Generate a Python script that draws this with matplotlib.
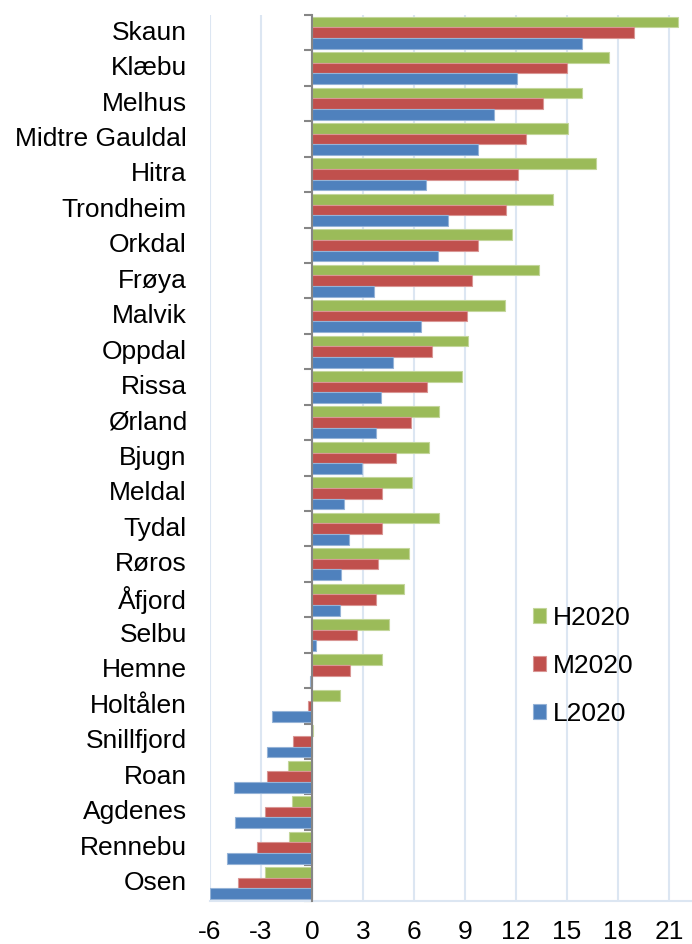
import numpy as np
import matplotlib
matplotlib.use('Agg')
import matplotlib.pyplot as plt

plt.rcParams['font.family'] = ['Liberation Sans', 'DejaVu Sans']

# municipality data, top to bottom
kommuner = ['Skaun', 'Klæbu', 'Melhus', 'Midtre Gauldal', 'Hitra', 'Trondheim',
            'Orkdal', 'Frøya', 'Malvik', 'Oppdal', 'Rissa', 'Ørland', 'Bjugn',
            'Meldal', 'Tydal', 'Røros', 'Åfjord', 'Selbu', 'Hemne', 'Holtålen',
            'Snillfjord', 'Roan', 'Agdenes', 'Rennebu', 'Osen']
h2020 = [21.55, 17.45, 15.9, 15.04, 16.7, 14.16, 11.75, 13.37, 11.35, 9.18,
         8.84, 7.49, 6.86, 5.88, 7.45, 5.71, 5.41, 4.53, 4.1, 1.67,
         0.08, -1.41, -1.18, -1.35, -2.75]
m2020 = [18.96, 15.0, 13.6, 12.61, 12.12, 11.39, 9.76, 9.41, 9.14, 7.06,
         6.75, 5.82, 4.92, 4.14, 4.12, 3.88, 3.76, 2.65, 2.25, -0.26,
         -1.14, -2.65, -2.75, -3.22, -4.33]
l2020 = [15.88, 12.04, 10.69, 9.75, 6.69, 8.0, 7.41, 3.65, 6.39, 4.76,
         4.08, 3.76, 2.96, 1.88, 2.16, 1.71, 1.63, 0.22, -0.1, -2.35,
         -2.67, -4.57, -4.51, -5.0, -6.0]
xticks = list(range(-6, 22, 3))

W, H = 692, 944
FS = 19
fig = plt.figure(figsize=(W / 100, H / 100), dpi=100)
ax = fig.add_axes([210 / W, 1 - 900.7 / H, (W - 210) / W, (900.7 - 15) / H])

y = np.arange(len(kommuner))
bh = 0.3
series = [(h2020, '#9BBB59', '#C3D69B', 'H2020', -bh),
          (m2020, '#C0504D', '#D99694', 'M2020', 0.0),
          (l2020, '#4F81BD', '#95B3D7', 'L2020', bh)]
for vals, col, edge, lab, off in series:
    ax.barh(y + off, vals, height=bh, color=col, edgecolor=edge,
            linewidth=0.8, label=lab, zorder=2)

ax.set_xlim(-6, 22.35)
ax.set_ylim(len(kommuner) - 0.5, -0.5)

ax.set_xticks(xticks)
ax.set_xticklabels([str(t) for t in xticks], fontsize=FS)
ax.tick_params(axis='x', length=0, pad=14)
ax.grid(axis='x', color='#DCE6F2', linewidth=1.5, zorder=0)
ax.set_axisbelow(True)

# y axis crossing at zero with ticks at category borders
ax.spines['left'].set_position(('data', 0))
ax.spines['left'].set_color('#868686')
ax.spines['left'].set_linewidth(1.5)
ax.spines['left'].set_zorder(3)
ax.set_yticks(np.arange(len(kommuner) + 1) - 0.5)
ax.set_yticklabels([])
ax.tick_params(axis='y', length=6, width=1.5, color='#868686', direction='out')
ax.spines['bottom'].set_color('#DCE6F2')
ax.spines['bottom'].set_linewidth(1.5)
ax.spines['top'].set_visible(False)
ax.spines['right'].set_visible(False)

for i, name in enumerate(kommuner):
    ax.text(-0.048, i, name, transform=ax.get_yaxis_transform(),
            ha='right', va='center', fontsize=FS)

ax.legend(loc='center left', bbox_to_anchor=(533 / W, 1 - 666 / H),
          bbox_transform=fig.transFigure, frameon=False, fontsize=FS,
          handlelength=0.5, handleheight=0.5, handletextpad=0.25,
          labelspacing=0.9, borderpad=0, borderaxespad=0)

fig.savefig('out.png', dpi=100)
